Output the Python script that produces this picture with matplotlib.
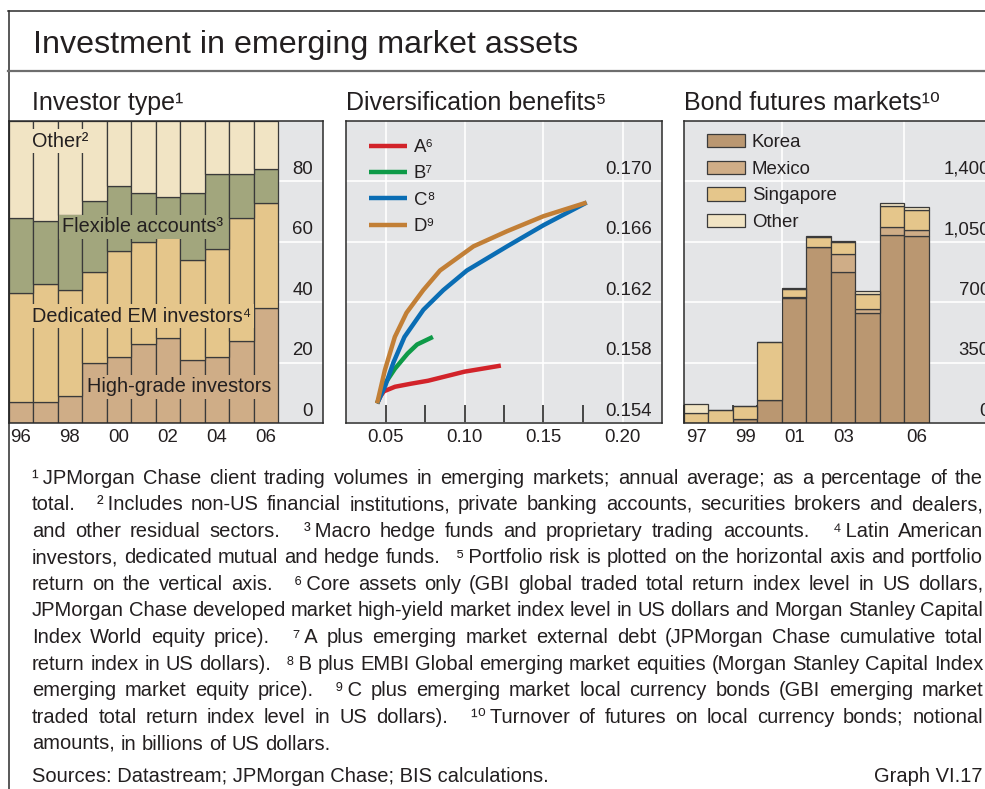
import matplotlib
matplotlib.use("Agg")
import matplotlib.pyplot as plt
import numpy as np
from matplotlib.lines import Line2D
from matplotlib.transforms import offset_copy

FAM = ["Liberation Sans", "DejaVu Sans"]
plt.rcParams["font.family"] = FAM
TXT = "#231F20"
plt.rcParams["text.color"] = TXT

# ------------------------------------------------------------------ data
# Panel 1: investor type (% of total)
investor_years = ["96", "97", "98", "99", "00", "01", "02", "03", "04", "05", "06"]
investor_xlabels = ["96", "98", "00", "02", "04", "06"]
high_grade = [7, 7, 9, 20, 22, 26, 28, 21, 22, 27, 38]
dedicated_em = [36, 39, 35, 30, 35, 34, 34, 33, 35.5, 41, 35]
flexible = [25, 21, 25, 23.5, 21.5, 16, 13, 22, 25, 14.5, 11]
other_inv = [32, 33, 31, 26.5, 21.5, 24, 25, 24, 17.5, 17.5, 16]
inv_yticks = [0, 20, 40, 60, 80]

# Panel 2: diversification benefits (risk, return)
a_risk = [0.0447, 0.0470, 0.0490, 0.0560, 0.0660, 0.0770, 0.1000, 0.1230]
a_ret = [0.1553, 0.1558, 0.1561, 0.1564, 0.1566, 0.1568, 0.1574, 0.1578]
b_risk = [0.0447, 0.0490, 0.0560, 0.0640, 0.0700, 0.0800]
b_ret = [0.1553, 0.1565, 0.1576, 0.1586, 0.1592, 0.1597]
c_risk = [0.0447, 0.0500, 0.0550, 0.0620, 0.0740, 0.0866, 0.1015, 0.1270, 0.1500, 0.1773]
c_ret = [0.1553, 0.1565, 0.1580, 0.1597, 0.1615, 0.1628, 0.1641, 0.1657, 0.1671, 0.1686]
d_risk = [0.0447, 0.0496, 0.0559, 0.0633, 0.0739, 0.0845, 0.1057, 0.1269, 0.1501, 0.1773]
d_ret = [0.1553, 0.1575, 0.1597, 0.1613, 0.1628, 0.1641, 0.1657, 0.1667, 0.1677, 0.1686]
div_xticks = [0.05, 0.10, 0.15, 0.20]
div_xminor = [0.05, 0.075, 0.10, 0.125, 0.15, 0.175]
div_yticks = [0.154, 0.158, 0.162, 0.166, 0.170]

# Panel 3: bond futures turnover (USD bn)
futures_years = ["97", "98", "99", "00", "01", "02", "03", "04", "05", "06"]
futures_xlabels = ["97", "99", "01", "03", "06"]
korea = [0, 0, 24, 135, 722, 1021, 874, 637, 1092, 1082]
mexico = [0, 0, 0, 0, 10, 0, 108, 26, 44, 35]
singapore = [58, 73, 72, 333, 44, 54, 64, 84, 120, 119]
other_fut = [52, 0, 0, 0, 4, 9, 11, 20, 19, 16]
fut_yticks = [0, 350, 700, 1050, 1400]

# ------------------------------------------------------------------ style
BG = "#E4E5E7"
EDGE = "#3A3A3A"
C_OTHER = "#F1E4C4"
C_FLEX = "#A2A67D"
C_DED = "#E5C68B"
C_HG = "#CFAD87"
C_KOR = "#BA9771"
C_MEX = "#CFAD87"
C_SIN = "#E5C68B"
C_OTH = "#F1E4C4"
LINE_COLS = ["#D2232A", "#0E9A48", "#0A6DB4", "#C27F36"]
FS_TICK = 13.4
W, H = 985, 789

fig = plt.figure(figsize=(W / 100, H / 100), dpi=100)


def fx(x):
    return x / W


def fy(y):
    return 1 - y / H


def make_axes(x0, x1):
    ax = fig.add_axes([fx(x0), fy(423), (x1 - x0) / W, 302 / H])
    ax.set_facecolor(BG)
    for s in ax.spines.values():
        s.set_color("#2B2B2B")
        s.set_linewidth(1.1)
    ax.set_axisbelow(True)
    return ax


def right_labels(ax, vals, labels):
    tr = offset_copy(ax.get_yaxis_transform(), fig=fig, x=-10, y=7.5, units="dots")
    for v, lab in zip(vals, labels):
        ax.text(1, v, lab, transform=tr, ha="right", va="baseline",
                fontsize=FS_TICK, color=TXT, clip_on=False)


# ---------------------------------------------------------------- panel 1
ax1 = make_axes(8.5, 323)
xi = np.arange(len(investor_years))
bottom = np.zeros(len(xi))
for vals, col in [(high_grade, C_HG), (dedicated_em, C_DED), (flexible, C_FLEX), (other_inv, C_OTHER)]:
    ax1.bar(xi, vals, width=1.0, bottom=bottom, color=col, edgecolor=EDGE, linewidth=0.9, zorder=1)
    bottom = bottom + np.array(vals)
ax1.set_xlim(-0.5, 12.32)
ax1.set_ylim(0, 100)
ax1.set_yticks(inv_yticks)
ax1.tick_params(axis="y", length=0, labelleft=False)
ax1.grid(axis="y", color="white", linewidth=1.2)
ax1.set_xticks([investor_years.index(l) for l in investor_xlabels], investor_xlabels)
ax1.tick_params(axis="x", length=0, pad=4.5, labelsize=FS_TICK, labelcolor=TXT)
right_labels(ax1, inv_yticks, [str(v) for v in inv_yticks])

for (xt, yt, s, col) in [(0.45, 91.5, "Other²", C_OTHER),
                         (1.67, 63.1, "Flexible accounts³", C_FLEX),
                         (0.47, 33.5, "Dedicated EM investors⁴", C_DED),
                         (2.72, 10.2, "High-grade investors", C_HG)]:
    ax1.text(xt, yt, s, fontsize=14.3, va="baseline", ha="left", zorder=3,
             bbox=dict(boxstyle="square,pad=0.12", facecolor=col, edgecolor="none"))

# ---------------------------------------------------------------- panel 2
ax2 = make_axes(346, 662)
for xs, ys, col, lab in [(a_risk, a_ret, LINE_COLS[0], "A⁶"),
                         (b_risk, b_ret, LINE_COLS[1], "B⁷"),
                         (c_risk, c_ret, LINE_COLS[2], "C⁸"),
                         (d_risk, d_ret, LINE_COLS[3], "D⁹")]:
    ax2.plot(xs, ys, color=col, linewidth=3.2, solid_capstyle="butt", label=lab, zorder=3)
ax2.set_xlim(0.025, 0.225)
ax2.set_ylim(0.154, 0.174)
ax2.set_yticks(div_yticks)
ax2.tick_params(axis="y", length=0, labelleft=False)
ax2.xaxis.remove_overlapping_locs = False
ax2.set_xticks(div_xticks, [f"{v:.2f}" for v in div_xticks])
ax2.set_xticks(div_xminor, minor=True)
ax2.tick_params(axis="x", which="major", length=0, pad=4.5, labelsize=FS_TICK, labelcolor=TXT)
ax2.tick_params(axis="x", which="minor", direction="in", length=13, width=1.2, color="#2B2B2B")
ax2.grid(axis="both", which="major", color="white", linewidth=1.2)
right_labels(ax2, div_yticks, [f"{v:.3f}" for v in div_yticks])
ax2.legend(loc="upper left", bbox_to_anchor=(0.073, 0.94), frameon=False,
           fontsize=FS_TICK, handlelength=2.05, handletextpad=0.35,
           labelspacing=0.5, borderpad=0, borderaxespad=0)

# ---------------------------------------------------------------- panel 3
ax3 = make_axes(684, 1000)
xf = np.arange(len(futures_years))
bottom = np.zeros(len(xf))
for vals, col, lab in [(korea, C_KOR, "Korea"), (mexico, C_MEX, "Mexico"),
                       (singapore, C_SIN, "Singapore"), (other_fut, C_OTH, "Other")]:
    ax3.bar(xf, vals, width=1.0, bottom=bottom, color=col, edgecolor=EDGE, linewidth=0.9,
            zorder=1, label=lab)
    bottom = bottom + np.array(vals)
ax3.set_xlim(-0.5, 12.4)
ax3.set_ylim(0, 1750)
ax3.set_yticks(fut_yticks)
ax3.tick_params(axis="y", length=0, labelleft=False)
ax3.grid(axis="y", color="white", linewidth=1.2)
for b in (3.5, 8.5):
    ax3.axvline(b, color="white", linewidth=1.2, zorder=0.6)
ax3.xaxis.remove_overlapping_locs = False
ax3.set_xticks([futures_years.index(l) for l in futures_xlabels], futures_xlabels)
ax3.set_xticks(np.arange(len(futures_years) + 1) - 0.5, minor=True)
ax3.tick_params(axis="x", which="major", length=0, pad=4.5, labelsize=FS_TICK, labelcolor=TXT)
ax3.tick_params(axis="x", which="minor", direction="in", length=13, width=1.2, color="#2B2B2B")
right_labels(ax3, fut_yticks, [f"{v:,}" for v in fut_yticks])
ax3.legend(loc="upper left", bbox_to_anchor=(0.073, 0.957), frameon=False,
           fontsize=FS_TICK, handlelength=2.05, handleheight=0.74, handletextpad=0.35,
           labelspacing=0.5, borderpad=0, borderaxespad=0)

# ---------------------------------------------------------------- frame & titles
fig.add_artist(Line2D([fx(8), 1], [fy(11), fy(11)], color="#2B2B2B", linewidth=1.1))
fig.add_artist(Line2D([fx(8.5), fx(8.5)], [0, fy(11)], color="#2B2B2B", linewidth=1.1))
fig.add_artist(Line2D([fx(8), 1], [fy(71), fy(71)], color="#6E6E6E", linewidth=1.6))

fig.text(fx(33), fy(53.3), "Investment in emerging market assets", fontsize=23.2, va="baseline")
fig.text(fx(32), fy(110), "Investor type¹", fontsize=18, va="baseline")
fig.text(fx(346), fy(110), "Diversification benefits⁵", fontsize=18, va="baseline")
fig.text(fx(684), fy(110), "Bond futures markets¹⁰", fontsize=18, va="baseline")

# ---------------------------------------------------------------- footnotes (justified)
footnote_lines = [
    "¹ JPMorgan Chase client trading volumes in emerging markets; annual average; as a percentage of the",
    "total.  ² Includes non-US financial institutions, private banking accounts, securities brokers and dealers,",
    "and other residual sectors.  ³ Macro hedge funds and proprietary trading accounts.  ⁴ Latin American",
    "investors, dedicated mutual and hedge funds.  ⁵ Portfolio risk is plotted on the horizontal axis and portfolio",
    "return on the vertical axis.  ⁶ Core assets only (GBI global traded total return index level in US dollars,",
    "JPMorgan Chase developed market high-yield market index level in US dollars and Morgan Stanley Capital",
    "Index World equity price).  ⁷ A plus emerging market external debt (JPMorgan Chase cumulative total",
    "return index in US dollars).  ⁸ B plus EMBI Global emerging market equities (Morgan Stanley Capital Index",
    "emerging market equity price).  ⁹ C plus emerging market local currency bonds (GBI emerging market",
    "traded total return index level in US dollars).  ¹⁰ Turnover of futures on local currency bonds; notional",
    "amounts, in billions of US dollars.",
]
SUPS = set("⁰¹²³⁴⁵⁶⁷⁸⁹")
renderer = fig.canvas.get_renderer()


def width_of(s, size):
    t = fig.text(0, 0, s, fontsize=size)
    w = t.get_window_extent(renderer=renderer).width
    t.remove()
    return w


def parse(line):
    toks = line.split(" ")
    groups, weights = [], []
    i = 0
    while i < len(toks):
        t = toks[i]
        if t == "":
            i += 1
            continue
        w = 1.0
        if all(c in SUPS for c in t) and i + 1 < len(toks):
            t = t + "\u2009" + toks[i + 1]
            i += 1
            w = 2.6
        if groups:
            weights.append(w)
        groups.append(t)
        i += 1
    return groups, weights


XL, XR = 32, 983
parsed = [parse(l) for l in footnote_lines]
fs = 14.5
while True:
    sp = width_of("a a", fs) - width_of("aa", fs)
    widths = [[width_of(g, fs) for g in gr] for gr, _ in parsed]
    ok = True
    for (gr, wt), gw in zip(parsed[:-1], widths[:-1]):
        unit = (XR - XL - sum(gw)) / sum(wt)
        if unit < 0.9 * sp:
            ok = False
    if ok or fs < 9:
        break
    fs -= 0.1

for k, ((gr, wt), gw) in enumerate(zip(parsed, widths)):
    yb = 483.5 + k * 26.6
    justify = k < len(parsed) - 1
    unit = (XR - XL - sum(gw)) / sum(wt) if justify else sp
    x = XL
    for j, (g, w) in enumerate(zip(gr, gw)):
        fig.text(fx(x), fy(yb), g, fontsize=fs, va="baseline", ha="left")
        if j < len(wt):
            x += w + unit * wt[j]

fig.text(fx(XL), fy(781.5), "Sources: Datastream; JPMorgan Chase; BIS calculations.", fontsize=fs, va="baseline")
fig.text(fx(XR), fy(781.5), "Graph VI.17", fontsize=fs, va="baseline", ha="right")

fig.savefig("out.png", dpi=100)
